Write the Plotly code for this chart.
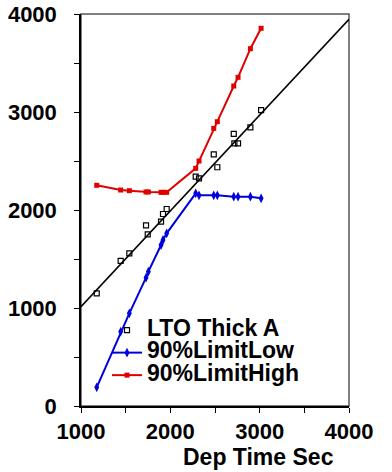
import plotly.graph_objects as go

# ---- data ----
dep_time = [1176, 1444, 1541, 1728, 1747, 1896, 1918, 1959,
            2284, 2321, 2486, 2526, 2710, 2717, 2758, 2896, 3016]
lto_thick = [1150, 1480, 1558, 1844, 1752, 1881, 1959, 2010,
             2340, 2323, 2568, 2436, 2776, 2680, 2680, 2844, 3020]

limit_x = [1176, 1444, 1541, 1728, 1754, 1896, 1918, 1959,
           2284, 2321, 2486, 2526, 2710, 2758, 2896, 3016]
limit_low = [191, 758, 946, 1309, 1371, 1643, 1694, 1762,
             2170, 2150, 2150, 2150, 2136, 2136, 2136, 2119]
limit_high = [2252, 2204, 2197, 2184, 2184, 2180, 2180, 2180,
              2425, 2500, 2833, 2901, 3265, 3354, 3646, 3854]

fit_x = [1000, 4000]
fit_y = [1013, 3946]

x_ticks = [1000, 2000, 3000, 4000]
y_ticks = [0, 1000, 2000, 3000, 4000]

FONT = "Liberation Sans, Arial, sans-serif"

def big(name):
    return '<span style="font-size:23px">' + name + '</span>'

fig = go.Figure()

fig.add_trace(go.Scatter(
    x=fit_x, y=fit_y, mode="lines", showlegend=False,
    line=dict(color="black", width=1.6), hoverinfo="skip"))

fig.add_trace(go.Scatter(
    x=dep_time, y=lto_thick, mode="markers", name=big("LTO Thick A"),
    marker=dict(symbol="square-open", size=5, color="black",
                line=dict(width=1.2, color="black"))))

fig.add_trace(go.Scatter(
    x=limit_x, y=limit_low, mode="lines+markers", name=big("90%LimitLow"),
    line=dict(color="#0000dd", width=2),
    marker=dict(symbol="diamond-tall", size=7, color="#0000dd")))

fig.add_trace(go.Scatter(
    x=limit_x, y=limit_high, mode="lines+markers", name=big("90%LimitHigh"),
    line=dict(color="#e00000", width=2),
    marker=dict(symbol="square", size=5, color="#e00000")))

fig.update_layout(
    width=392, height=472,
    margin=dict(l=81, r=43, t=14, b=66, autoexpand=False),
    paper_bgcolor="white", plot_bgcolor="white",
    font=dict(family=FONT, color="black", size=22, weight="bold"),
    showlegend=True,
    legend=dict(x=0.097, y=0.235, xanchor="left", yanchor="top",
                traceorder="normal",
                font=dict(size=15, family=FONT, color="black", weight="bold"),
                bgcolor="rgba(0,0,0,0)", borderwidth=0,
                itemwidth=30, tracegroupgap=0),
    shapes=[dict(type="rect", xref="paper", yref="paper", x0=0, y0=0, x1=1, y1=1,
                 line=dict(color="#555555", width=1.5), layer="below")],
    annotations=[dict(text="Dep Time Sec", xref="paper", yref="paper",
                      x=0.664, y=-0.092, xanchor="center", yanchor="top",
                      showarrow=False,
                      font=dict(size=23, family=FONT, color="black", weight="bold"))],
)

fig.update_xaxes(
    range=[1000, 4000], tickvals=x_ticks, ticktext=[str(v) for v in x_ticks],
    automargin=False,
    showgrid=False, zeroline=False,
    showline=True, linecolor="black", linewidth=1.5,
    ticks="outside", ticklen=5, tickwidth=1.2, tickcolor="black",
    minor=dict(dtick=500, tick0=1000, ticks="outside", ticklen=5,
               tickwidth=1.2, tickcolor="black", showgrid=False),
    tickfont=dict(size=22, family=FONT, color="black", weight="bold"))

fig.update_yaxes(
    range=[0, 4000], tickvals=y_ticks, ticktext=[str(v) for v in y_ticks],
    automargin=False,
    showgrid=False, zeroline=False,
    showline=True, linecolor="black", linewidth=1.5,
    ticks="outside", ticklen=5, tickwidth=1.2, tickcolor="black",
    minor=dict(dtick=500, tick0=0, ticks="outside", ticklen=5,
               tickwidth=1.2, tickcolor="black", showgrid=False),
    ticklabelstandoff=13,
    tickfont=dict(size=22, family=FONT, color="black", weight="bold"))

fig.write_html("out.html")
